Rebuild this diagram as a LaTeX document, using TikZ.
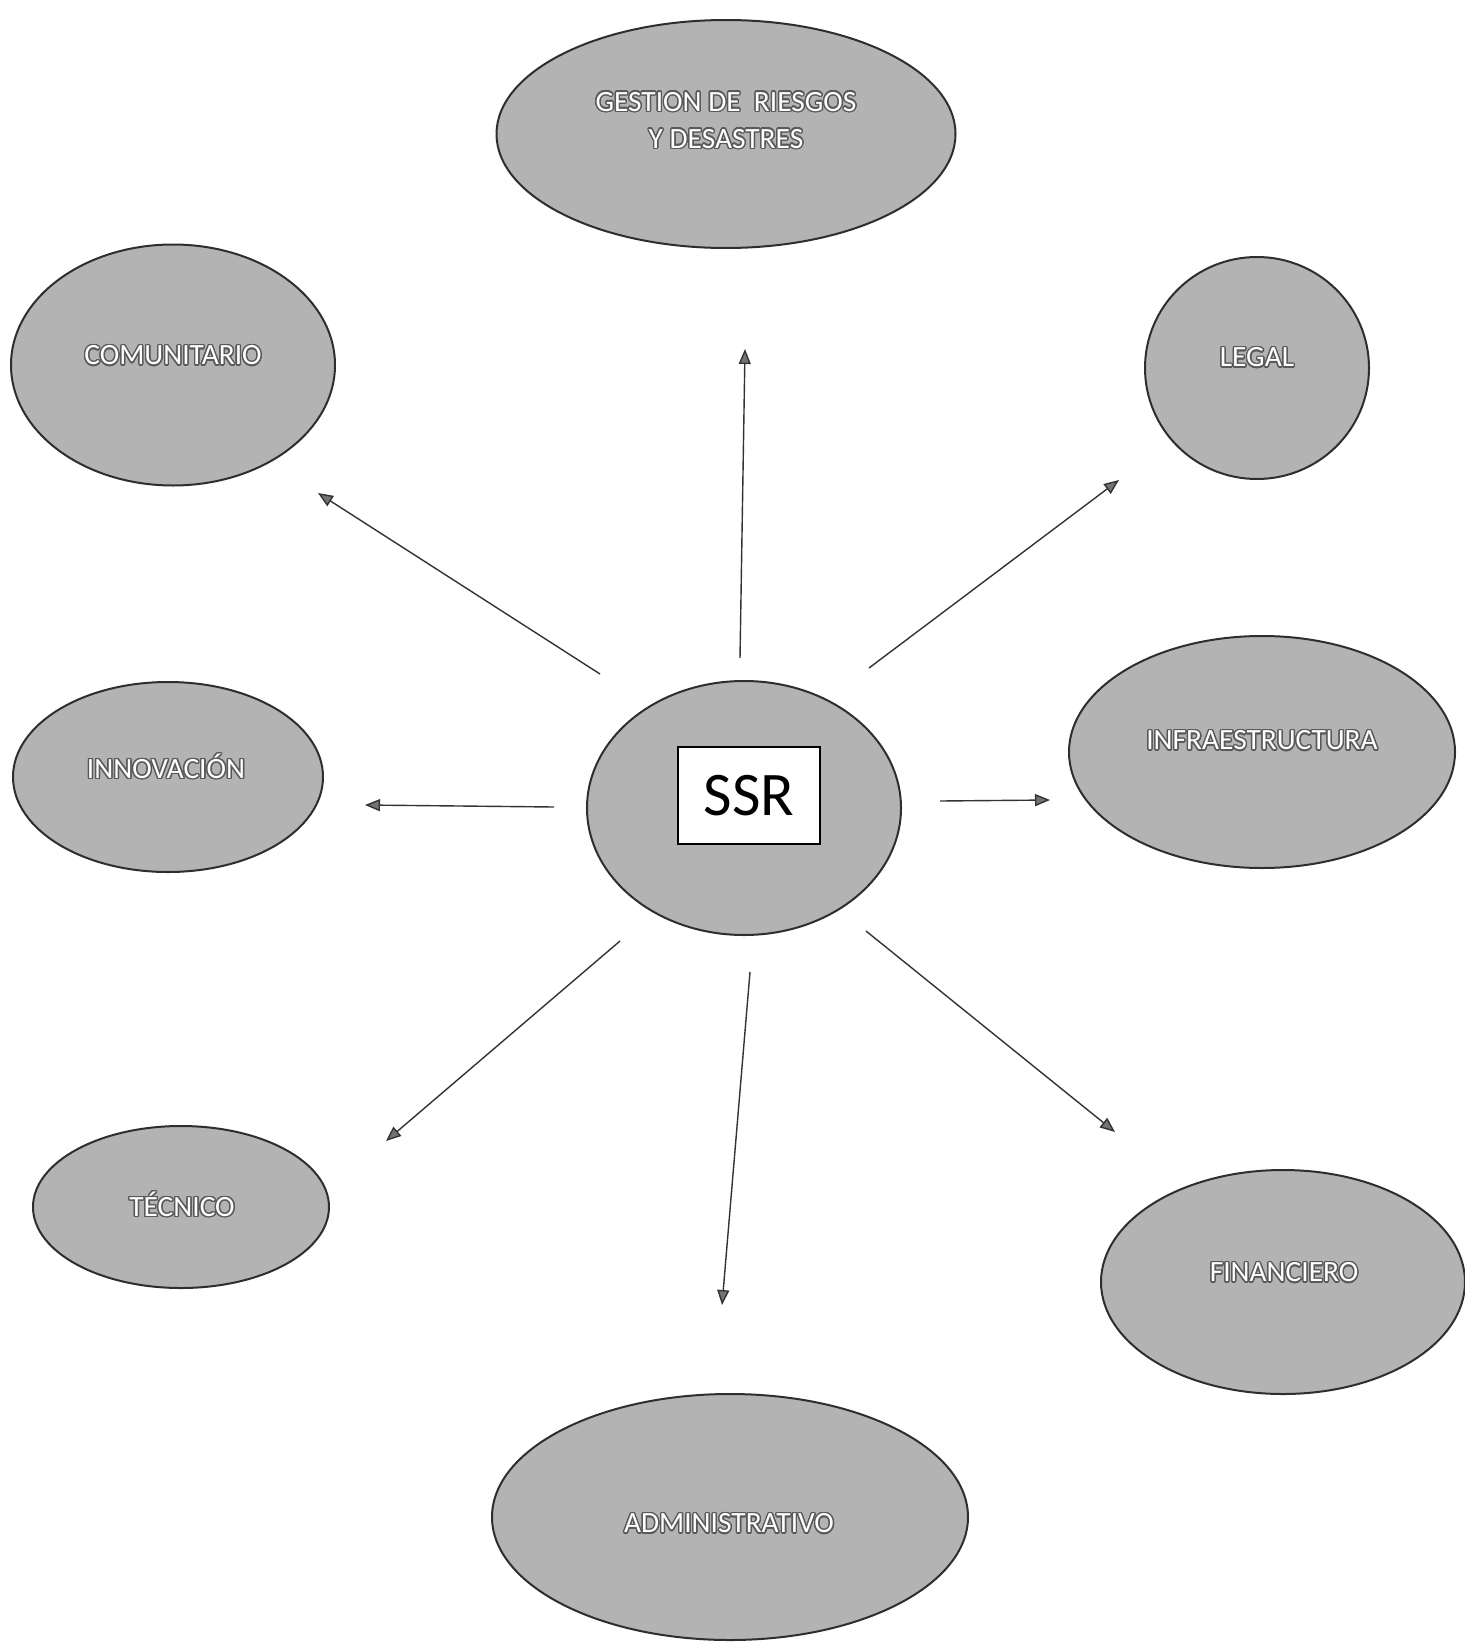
\documentclass[tikz,border=0pt]{standalone}
\usepackage{fontspec}
\setmainfont{Carlito}
\usepackage{contour}
\contourlength{0.7pt}
\usetikzlibrary{shapes.geometric,arrows.meta}
\definecolor{ovalgray}{HTML}{B3B3B3}
\definecolor{edgegray}{HTML}{2E2E2E}
\newcommand{\wtxt}[1]{\contour{black!65}{\textcolor{white}{#1}}}
\tikzset{
  oval/.style={ellipse, fill=ovalgray, draw=edgegray, line width=1pt, inner sep=0pt},
  lbl/.style={font=\fontsize{14.7}{18.5}\selectfont, align=center},
  link/.style={draw=black!80, line width=0.7pt, -{Triangle[length=7.5pt,width=6pt,fill=black!55]}}
}
\begin{document}
\begin{tikzpicture}[x=0.5pt,y=-0.5pt]
\useasboundingbox (0,0) rectangle (1465,1643);
\fill[white] (0,0) rectangle (1465,1643);
% ovals (sizes in pt = half the pixel size)
\node[oval, minimum width=229.5pt, minimum height=114pt] (gest) at (726,134) {};
\node[lbl] (gestt) at (726,121) {\wtxt{GESTION DE~ RIESGOS}\\\wtxt{Y DESASTRES}};
\node[oval, minimum width=162pt, minimum height=120.5pt] (comu) at (173,365) {};
\node[lbl] (comut) at (173,356) {\wtxt{COMUNITARIO}};
\node[oval, minimum width=112pt, minimum height=111pt] (legal) at (1257,368) {};
\node[lbl] (legalt) at (1257,358) {\wtxt{LEGAL}};
\node[oval, minimum width=193pt, minimum height=116pt] (infra) at (1262,752) {};
\node[lbl] (infrat) at (1262,741) {\wtxt{INFRAESTRUCTURA}};
\node[oval, minimum width=155pt, minimum height=95pt] (inno) at (168,777) {};
\node[lbl] (innot) at (166,767) {\wtxt{INNOVACIÓN}};
\node[oval, minimum width=157pt, minimum height=127pt] (ssr) at (744,808) {};
\node[draw=black, line width=1pt, fill=white, minimum width=71pt, minimum height=48.5pt, inner sep=0pt, font=\fontsize{31}{36}\selectfont] (ssrbox) at (749,795.5) {SSR};
\node[oval, minimum width=148pt, minimum height=81pt] (tec) at (181,1207) {};
\node[lbl] (tect) at (182,1205) {\wtxt{TÉCNICO}};
\node[oval, minimum width=182pt, minimum height=112pt] (fin) at (1283,1282) {};
\node[lbl] (fint) at (1284,1273) {\wtxt{FINANCIERO}};
\node[oval, minimum width=238pt, minimum height=123pt] (adm) at (730,1517) {};
\node[lbl] (admt) at (729,1524) {\wtxt{ADMINISTRATIVO}};
% arrow endpoints
\coordinate (s1) at (740,658);  \coordinate (e1) at (745,349);
\coordinate (s2) at (600,674);  \coordinate (e2) at (318,493);
\coordinate (s3) at (869,668);  \coordinate (e3) at (1119,480);
\coordinate (s4) at (554,807);  \coordinate (e4) at (365,805);
\coordinate (s5) at (940,801);  \coordinate (e5) at (1050,800);
\coordinate (s6) at (620,941);  \coordinate (e6) at (386,1141);
\coordinate (s7) at (750,972);  \coordinate (e7) at (722,1305);
\coordinate (s8) at (866,931);  \coordinate (e8) at (1115,1132);
\draw[link] (s1) -- (e1);
\draw[link] (s2) -- (e2);
\draw[link] (s3) -- (e3);
\draw[link] (s4) -- (e4);
\draw[link] (s5) -- (e5);
\draw[link] (s6) -- (e6);
\draw[link] (s7) -- (e7);
\draw[link] (s8) -- (e8);
\end{tikzpicture}
\end{document}
